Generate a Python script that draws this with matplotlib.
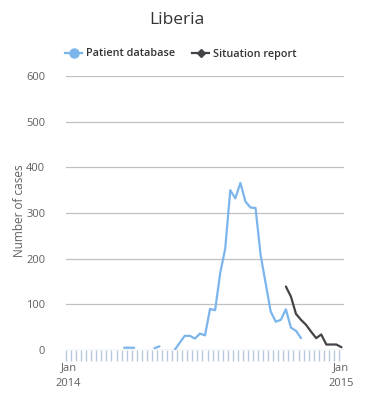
import matplotlib
matplotlib.use("Agg")
import matplotlib.pyplot as plt
from matplotlib.lines import Line2D
import numpy as np

plt.rcParams['font.family'] = ['Open Sans', 'DejaVu Sans']

nan = np.nan
# weekly counts, Jan 2014 .. Jan 2015 (55 weeks)
patient_db = [nan] * 11 + [5, 5, 5, nan, nan, nan, 4, 8, nan, nan,
              0, 16, 31, 31, 25, 36, 32, 90, 87, 168, 222, 350, 332, 366,
              325, 312, 311, 208, 146, 84, 62, 66, 89, 49, 42, 26] + [nan] * 8
situation = [nan] * 43 + [139, 117, 79, 66, 55, 40, 26, 34, 12, 12, 12, 6]
weeks = np.arange(len(patient_db))
xlabels = {0: "Jan\n2014", 54: "Jan\n2015"}
yticks = [0, 100, 200, 300, 400, 500, 600]

blue = "#7cb5ec"
dark = "#434348"

fig = plt.figure(figsize=(3.86, 4.08), dpi=100)
ax = fig.add_axes([66 / 386, 58 / 408, 278 / 386, 274 / 408])

ax.plot(weeks, patient_db, color=blue, lw=1.6, solid_capstyle='round', zorder=3)
ax.plot(weeks, situation, color=dark, lw=1.6, solid_capstyle='round', zorder=3)

ax.set_xlim(-0.5, 54.5)
ax.set_ylim(0, 600)
for y in yticks[1:]:
    ax.axhline(y, color="#c0c0c0", lw=0.9, zorder=1)
ax.axhline(0, color="#c0d0e0", lw=1.0, zorder=2)

for s in ax.spines.values():
    s.set_visible(False)

ax.set_yticks(yticks)
ax.set_yticklabels([str(v) for v in yticks], fontsize=8, color="#606060")
ax.tick_params(axis='y', length=0, pad=15)

# weekly ticks between categories
ax.set_xticks(np.arange(-0.5, 54, 1.0), minor=True)
ax.tick_params(axis='x', which='minor', length=8, color="#b8c8dc", width=1.0, direction='out')
ax.set_xticks(list(xlabels.keys()))
ax.set_xticklabels(list(xlabels.values()), fontsize=8, color="#606060", linespacing=1.6)
ax.tick_params(axis='x', which='major', length=0, pad=9)

fig.text(20 / 386, 1 - 211 / 408, "Number of cases", rotation=90, ha='center', va='center',
         fontsize=8.5, color="#606060")

fig.text(177 / 386, 1 - 20 / 408, "Liberia", ha='center', va='center', fontsize=12.5, color="#333333")

handles = [
    Line2D([], [], color=blue, lw=1.6, marker='o', markersize=6.5),
    Line2D([], [], color=dark, lw=1.6, marker='D', markersize=4.5),
]
fig.legend(handles, ["Patient database", "Situation report"], loc='center',
           bbox_to_anchor=(181 / 386, 1 - 54 / 408), ncol=2, frameon=False,
           prop={'size': 7.8, 'weight': 'semibold'}, handlelength=1.5,
           handletextpad=0.4, columnspacing=1.6, labelcolor="#333333")

fig.savefig("out.png", dpi=100)
